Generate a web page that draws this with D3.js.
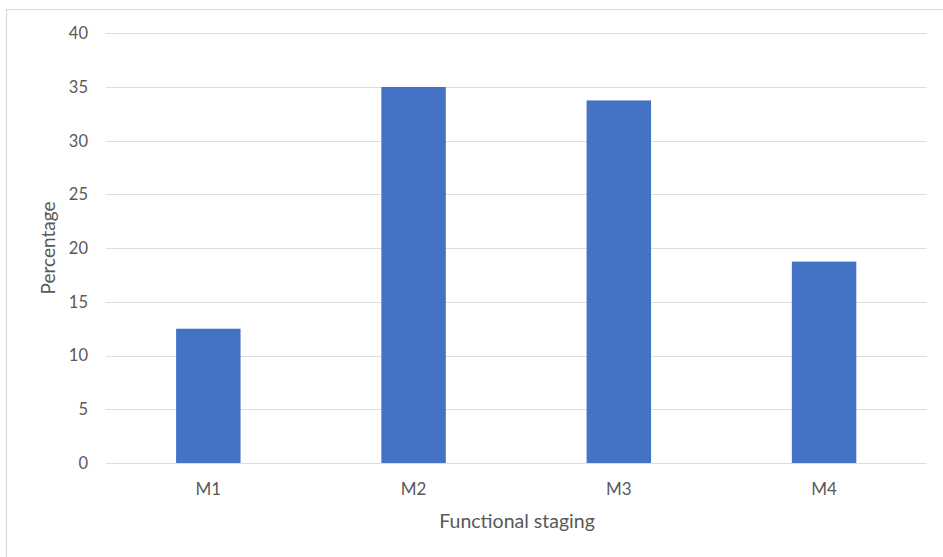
<!DOCTYPE html>
<html>
<head>
<meta charset="utf-8">
<script src="https://cdn.jsdelivr.net/npm/d3@7"></script>
<style>
  html, body { margin: 0; padding: 0; background: #fff; }
  svg { display: block; }
  text { font-family: Lato, "Open Sans", sans-serif; fill: #595959; }
</style>
</head>
<body>
<svg id="chart" width="943" height="557"></svg>
<script>
// Share of patients in each functional stage (%)
const categories = ["M1", "M2", "M3", "M4"];
const values = [12.5, 35, 33.75, 18.75];
const yTicks = [0, 5, 10, 15, 20, 25, 30, 35, 40];
const xTitle = "Functional staging";
const yTitle = "Percentage";

const W = 943, H = 557;
const plot = { left: 105.7, right: 926.7, top: 33.3, bottom: 463 };

const svg = d3.select("#chart");

// outer frame (top and left edges visible)
svg.append("path")
  .attr("d", `M6.5,${H} V9.5 H${W}`)
  .attr("fill", "none")
  .attr("stroke", "#d9d9d9")
  .attr("stroke-width", 1.2);

const x = d3.scaleBand()
  .domain(categories)
  .range([plot.left, plot.right])
  .paddingInner(0.686)
  .paddingOuter(0.343);

const y = d3.scaleLinear()
  .domain([0, 40])
  .range([plot.bottom, plot.top]);

// horizontal gridlines
svg.append("g")
  .selectAll("line")
  .data(yTicks)
  .join("line")
  .attr("x1", plot.left)
  .attr("x2", plot.right)
  .attr("y1", d => Math.round(y(d)) + 0.5)
  .attr("y2", d => Math.round(y(d)) + 0.5)
  .attr("stroke", "#dedede")
  .attr("stroke-width", 1.2);

// y tick labels
svg.append("g")
  .selectAll("text")
  .data(yTicks)
  .join("text")
  .attr("x", 88)
  .attr("y", d => y(d))
  .attr("dy", "0.35em")
  .attr("text-anchor", "end")
  .style("font-size", "16.5px")
  .text(d => d);

// bars
svg.append("g")
  .selectAll("rect")
  .data(values)
  .join("rect")
  .attr("x", (d, i) => x(categories[i]))
  .attr("width", x.bandwidth())
  .attr("y", d => y(d))
  .attr("height", d => y(0) - y(d))
  .attr("fill", "#4472c4");

// category labels
svg.append("g")
  .selectAll("text")
  .data(categories)
  .join("text")
  .attr("x", d => x(d) + x.bandwidth() / 2)
  .attr("y", 495)
  .attr("text-anchor", "middle")
  .style("font-size", "17px")
  .text(d => d);

// axis titles
svg.append("text")
  .attr("x", 517)
  .attr("y", 528)
  .attr("text-anchor", "middle")
  .style("font-size", "19.5px")
  .text(xTitle);

svg.append("text")
  .attr("transform", "translate(55,248) rotate(-90)")
  .attr("text-anchor", "middle")
  .style("font-size", "19px")
  .text(yTitle);
</script>
</body>
</html>
